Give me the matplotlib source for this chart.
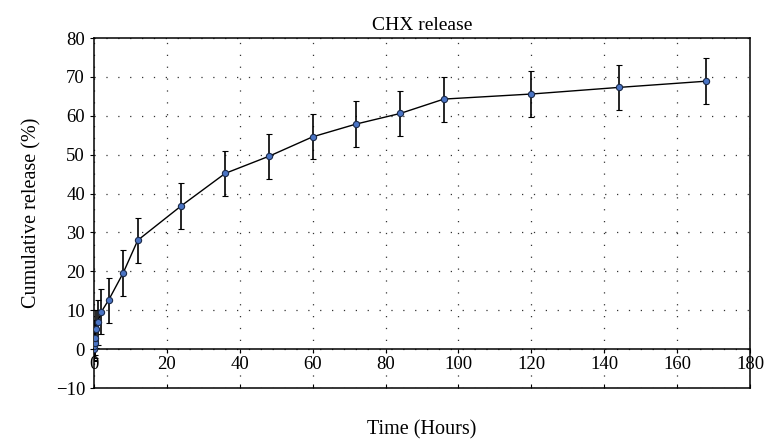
import matplotlib
matplotlib.use("Agg")
import matplotlib.pyplot as plt

plt.rcParams['font.family'] = ['Liberation Serif', 'DejaVu Serif']

time_h = [0, 0.083, 0.167, 0.25, 0.5, 1, 2, 4, 8, 12, 24, 36, 48, 60, 72, 84, 96, 120, 144, 168]
release = [0, 0.8, 1.7, 2.9, 5.2, 6.9, 9.6, 12.6, 19.6, 28.0, 36.9, 45.2, 49.6, 54.6, 57.9, 60.6, 64.3, 65.6, 67.3, 68.9]
err = [3.0, 3.5, 4.0, 4.5, 5.0, 5.8, 5.8, 5.8, 5.8, 5.8, 5.9, 5.8, 5.8, 5.8, 5.8, 5.8, 5.8, 5.8, 5.8, 5.9]

x_ticks = [0, 20, 40, 60, 80, 100, 120, 140, 160, 180]
y_ticks = [-10, 0, 10, 20, 30, 40, 50, 60, 70, 80]

fig = plt.figure(figsize=(7.65, 4.4), dpi=100)
ax = fig.add_axes([0.1229, 0.118, 0.8575, 0.7956])

ax.errorbar(time_h, release, yerr=err, color='black', lw=1.0, elinewidth=1.2,
            capsize=2.5, capthick=1.0, marker='o', markersize=4.5,
            markerfacecolor='#4a74c4', markeredgecolor='#1a2a4a', markeredgewidth=0.8, zorder=3)

ax.set_xlim(0, 180)
ax.set_ylim(-10, 80)
ax.set_xticks(x_ticks)
ax.set_yticks(y_ticks)
ax.set_yticklabels(['\u221210' if v < 0 else str(v) for v in y_ticks])

ax.spines['bottom'].set_position(('data', 0))
for s in ax.spines.values():
    s.set_linewidth(1.1)
ax.axhline(-10, color='black', lw=1.1, clip_on=False, zorder=4)

sec = ax.secondary_xaxis(0.0)
sec.set_xticks(x_ticks)
sec.tick_params(direction='in', length=3, labelbottom=False)
sec.spines['bottom'].set_visible(False)

ax.tick_params(axis='both', labelsize=13.5, direction='out', length=3)
ax.tick_params(axis='x', pad=2)
ax.grid(True, color='#333333', linestyle=(0, (1, 8.5)), linewidth=0.9)
ax.set_axisbelow(True)

ax.set_title('CHX release', fontsize=14, pad=6)
ax.set_ylabel('Cumulative release (%)', fontsize=14.5, labelpad=10)
ax.set_xlabel('Time (Hours)', fontsize=14.5, labelpad=34)

fig.savefig('out.png', dpi=100)
